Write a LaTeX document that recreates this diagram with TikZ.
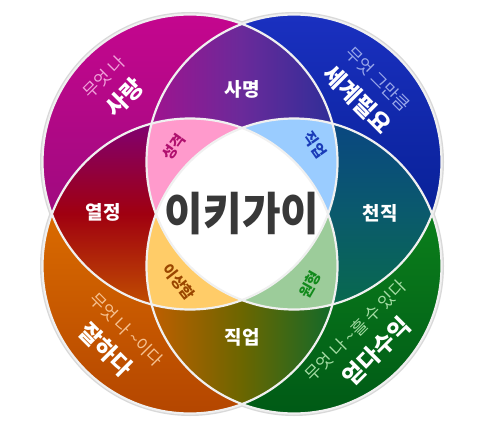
\documentclass[tikz,border=0pt]{standalone}
\usepackage{fontspec}
\setmainfont{Noto Sans CJK KR}
\definecolor{cTLa}{HTML}{C4068E}
\definecolor{cTLb}{HTML}{8E0C78}
\definecolor{cTRa}{HTML}{1A30C0}
\definecolor{cTRb}{HTML}{001A84}
\definecolor{cBRa}{HTML}{10901E}
\definecolor{cBRb}{HTML}{005A16}
\definecolor{cBLa}{HTML}{EC7C00}
\definecolor{cBLb}{HTML}{B44600}
\definecolor{mTopL}{HTML}{A2128E}
\definecolor{mTopM}{HTML}{6A2A9A}
\definecolor{mTopR}{HTML}{2C2E98}
\definecolor{mRgtT}{HTML}{0A4682}
\definecolor{mRgtM}{HTML}{0A5A6C}
\definecolor{mRgtB}{HTML}{086A4C}
\definecolor{mBotL}{HTML}{C45E00}
\definecolor{mBotM}{HTML}{6B6600}
\definecolor{mBotR}{HTML}{0C6A2C}
\definecolor{mLftT}{HTML}{7E0076}
\definecolor{mLftM}{HTML}{A00010}
\definecolor{mLftB}{HTML}{C25200}
\definecolor{pPink}{HTML}{FF9ACC}
\definecolor{pBlue}{HTML}{9ACCFF}
\definecolor{pGreen}{HTML}{9CCC9A}
\definecolor{pOrange}{HTML}{FFCC68}
\definecolor{tPink}{HTML}{B0106E}
\definecolor{tBlue}{HTML}{1A3CB8}
\definecolor{tGreen}{HTML}{128A1C}
\definecolor{tOrange}{HTML}{9A4600}
\definecolor{sPink}{HTML}{F0A2DA}
\definecolor{sBlue}{HTML}{9AA8EA}
\definecolor{sGreen}{HTML}{A4DCA4}
\definecolor{sOrange}{HTML}{F6C292}
\definecolor{ctext}{HTML}{383838}
\def\R{147.5pt}
\newcommand{\smalltxt}[2]{{\mdseries\fontsize{17}{31}\selectfont\color{#1}#2}}
\newcommand{\bigtxt}[1]{{\bfseries\fontsize{23}{31}\selectfont #1}}
\tikzset{
  corner/.style={text=white, inner sep=0pt, align=center, font=\fontsize{17}{31}\selectfont},
  mid/.style={font=\bfseries\fontsize{19}{21}\selectfont, text=white, inner sep=0pt},
  tri/.style={font=\bfseries\fontsize{15}{17}\selectfont, inner sep=0pt},
  ring/.style={draw=white!88!gray, line width=2.2pt},
  halo/.style={draw=gray!30, line width=5pt}
}
\begin{document}
\begin{tikzpicture}[x=1pt,y=-1pt]
\useasboundingbox (0,0) rectangle (487,425);
\coordinate (TL) at (190,162);
\coordinate (TR) at (294,162);
\coordinate (BL) at (190,266);
\coordinate (BR) at (294,266);
% halo
\foreach \c in {TL,TR,BL,BR} \draw[halo] (\c) circle[radius=\R];
% single circles
\shade[top color=cTLa, bottom color=cTLb] (TL) circle[radius=\R];
\shade[top color=cTRa, bottom color=cTRb] (TR) circle[radius=\R];
\shade[top color=cBRa, bottom color=cBRb] (BR) circle[radius=\R];
\shade[top color=cBLa, bottom color=cBLb] (BL) circle[radius=\R];
% pair overlaps
\begin{scope}
  \clip (TL) circle[radius=\R];
  \clip (TR) circle[radius=\R];
  \shade[left color=mTopL, right color=mTopR, middle color=mTopM] (146,10) rectangle (338,310);
\end{scope}
\begin{scope}
  \clip (TR) circle[radius=\R];
  \clip (BR) circle[radius=\R];
  \shade[top color=mRgtT, bottom color=mRgtB, middle color=mRgtM] (140,118) rectangle (450,310);
\end{scope}
\begin{scope}
  \clip (BL) circle[radius=\R];
  \clip (BR) circle[radius=\R];
  \shade[left color=mBotL, right color=mBotR, middle color=mBotM] (146,110) rectangle (338,420);
\end{scope}
\begin{scope}
  \clip (TL) circle[radius=\R];
  \clip (BL) circle[radius=\R];
  \shade[top color=mLftT, bottom color=mLftB, middle color=mLftM] (30,118) rectangle (340,310);
\end{scope}
% triple overlaps
\begin{scope}
  \clip (TL) circle[radius=\R];
  \clip (TR) circle[radius=\R];
  \fill[pPink] (BL) circle[radius=\R];
  \fill[pBlue] (BR) circle[radius=\R];
\end{scope}
\begin{scope}
  \clip (BL) circle[radius=\R];
  \clip (BR) circle[radius=\R];
  \fill[pOrange] (TL) circle[radius=\R];
  \fill[pGreen] (TR) circle[radius=\R];
\end{scope}
% centre
\begin{scope}
  \clip (TL) circle[radius=\R];
  \clip (TR) circle[radius=\R];
  \clip (BL) circle[radius=\R];
  \fill[white] (BR) circle[radius=\R];
\end{scope}
% rings
\foreach \c in {TL,TR,BL,BR} \draw[ring] (\c) circle[radius=\R];
% texts
\node[font=\bfseries\fontsize{42}{44}\selectfont, text=ctext, inner sep=0pt, yscale=1.08] (ikigai) at (242,214) {이키가이};
\node[mid] (mission) at (242,89) {사명};
\node[mid] (passion) at (103,212) {열정};
\node[mid] (vocation) at (380,213) {천직};
\node[mid] (profession) at (242,337) {직업};
\node[tri, text=tPink, rotate=55] (t1) at (174,147) {성격};
\node[tri, text=tBlue, rotate=-55] (t2) at (315,145) {직업};
\node[tri, text=tOrange, rotate=-52] (t3) at (179,282) {이상함};
\node[tri, text=tGreen, rotate=60] (t4) at (310,285) {원형};
\node[corner, rotate=45] (love) at (115,88) {\smalltxt{sPink}{무엇 나}\\\bigtxt{사랑}};
\node[corner, rotate=-45] (world) at (367,90) {\smalltxt{sBlue}{무엇 그만큼}\\\bigtxt{세계필요}};
\node[corner, rotate=-45] (good) at (115,341) {\smalltxt{sOrange}{무엇 나 \textasciitilde 이다}\\\bigtxt{잘하다}};
\node[corner, rotate=45] (paid) at (367,342) {\smalltxt{sGreen}{무엇 나 \textasciitilde 흘 수 있다}\\\bigtxt{얻다수익}};
\end{tikzpicture}
\end{document}
